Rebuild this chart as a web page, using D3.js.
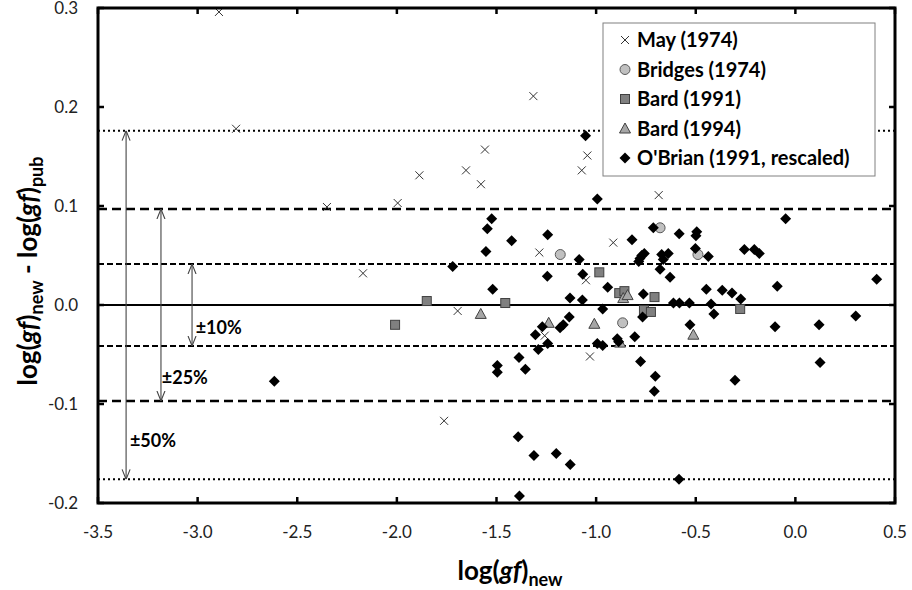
<!DOCTYPE html>
<html>
<head>
<script src="https://d3js.org/d3.v7.min.js"></script>
<style>
  body { margin: 0; background: #fff; font-family: Lato, "Open Sans", sans-serif; }
</style>
</head>
<body>
<div id="chart"></div>
<script>
// data
var mayX = [-2.893, -2.807, -2.351, -2.170, -1.996, -1.887, -1.653, -1.578, -1.558, -1.315, -1.044, -1.072, -0.686, -0.914, -1.285, -1.051, -1.695, -1.258, -1.031, -1.763];
var mayY = [0.296, 0.178, 0.099, 0.032, 0.103, 0.131, 0.136, 0.122, 0.157, 0.211, 0.151, 0.136, 0.111, 0.063, 0.053, 0.025, -0.006, -0.031, -0.052, -0.117];

var bridgesX = [-1.180, -0.679, -0.489, -0.867];
var bridgesY = [0.051, 0.078, 0.051, -0.018];

var bard91X = [-2.009, -1.850, -1.456, -0.984, -0.884, -0.858, -0.760, -0.725, -0.707, -0.277];
var bard91Y = [-0.020, 0.004, 0.002, 0.033, 0.012, 0.014, -0.005, -0.007, 0.008, -0.004];

var bard94X = [-1.579, -1.238, -1.009, -0.864, -0.842, -0.880, -0.512];
var bard94Y = [-0.009, -0.018, -0.019, 0.007, 0.010, -0.038, -0.030];

var obrianX = [-2.615, -1.720, -1.524, -1.546, -1.553, -1.519, -1.496, -1.496, -1.424, -1.387,
  -1.391, -1.385, -1.355, -1.312, -1.305, -1.290, -1.270, -1.245, -1.243, -1.243,
  -1.200, -1.181, -1.165, -1.135, -1.131, -1.130, -1.085, -1.069, -1.067, -1.053,
  -0.994, -0.994, -0.967, -0.967, -0.942, -0.894, -0.887, -0.820, -0.806, -0.786,
  -0.780, -0.771, -0.777, -0.767, -0.763, -0.758, -0.713, -0.708, -0.703, -0.679,
  -0.671, -0.663, -0.638, -0.629, -0.612, -0.584, -0.583, -0.582, -0.532, -0.529,
  -0.502, -0.499, -0.495, -0.447, -0.437, -0.423, -0.409, -0.367, -0.318, -0.303,
  -0.274, -0.256, -0.206, -0.181, -0.102, -0.091, -0.049, 0.119, 0.124, 0.303, 0.408];
var obrianY = [-0.077, 0.039, 0.087, 0.077, 0.054, 0.016, -0.061, -0.068, 0.065, -0.053,
  -0.133, -0.193, -0.065, -0.152, -0.030, -0.045, -0.022, 0.029, 0.071, -0.039,
  -0.150, -0.023, -0.020, -0.012, 0.007, -0.161, 0.046, 0.005, 0.031, 0.171,
  0.107, -0.039, -0.041, -0.004, 0.018, -0.034, -0.037, 0.066, -0.032, 0.044,
  0.047, 0.050, -0.057, -0.012, 0.011, 0.052, 0.078, -0.087, -0.072, 0.036,
  0.051, 0.046, 0.052, 0.028, 0.002, -0.176, 0.072, 0.002, 0.002, -0.020,
  0.057, 0.070, 0.074, 0.016, 0.049, 0.001, -0.009, 0.015, 0.012, -0.076,
  0.006, 0.056, 0.056, 0.052, -0.022, 0.019, 0.087, -0.020, -0.058, -0.011, 0.026];

var xTicks = [-3.5, -3.0, -2.5, -2.0, -1.5, -1.0, -0.5, 0.0, 0.5];
var yTicks = [0.3, 0.2, 0.1, 0.0, -0.1, -0.2];
var legendLabels = ["May (1974)", "Bridges (1974)", "Bard (1991)", "Bard (1994)", "O'Brian (1991, rescaled)"];
var bandLabels = ["±10%", "±25%", "±50%"];
var bandFactors = [1.1, 1.25, 1.5];

var width = 912, height = 590;
var mLeft = 98, mRight = 895, mTop = 8, mBottom = 503;

var svg = d3.select("#chart").append("svg")
  .attr("width", width).attr("height", height);

var x = d3.scaleLinear().domain([-3.5, 0.5]).range([mLeft, mRight]);
var y = d3.scaleLinear().domain([-0.2, 0.3]).range([mBottom, mTop]);
var fmt = function (v) { return d3.format(".1f")(v).replace("−", "-"); };

// reference lines
var bandStyles = [
  { w: 2, dash: "6,3" },
  { w: 2.5, dash: "9,5" },
  { w: 2, dash: "2,3" }
];
bandFactors.forEach(function (f, i) {
  var v = Math.log10(f);
  [v, -v].forEach(function (yy) {
    svg.append("line")
      .attr("x1", mLeft).attr("x2", mRight)
      .attr("y1", y(yy)).attr("y2", y(yy))
      .attr("stroke", "#000").attr("stroke-width", bandStyles[i].w)
      .attr("stroke-dasharray", bandStyles[i].dash);
  });
});
svg.append("line")
  .attr("x1", mLeft).attr("x2", mRight)
  .attr("y1", y(0)).attr("y2", y(0))
  .attr("stroke", "#000").attr("stroke-width", 1.8);

// double arrows
var defs = svg.append("defs");
defs.append("marker").attr("id", "arr").attr("viewBox", "0 0 10 10")
  .attr("refX", 10).attr("refY", 5).attr("markerWidth", 10).attr("markerHeight", 10)
  .attr("markerUnits", "userSpaceOnUse").attr("orient", "auto-start-reverse")
  .append("path").attr("d", "M0,1 L10,5 L0,9").attr("fill", "none")
  .attr("stroke", "#444").attr("stroke-width", 1.1);

var arrowX = [-3.028, -3.184, -3.359];
var labelPos = [[-3.01, -0.023], [-3.18, -0.073], [-3.34, -0.137]];
bandFactors.forEach(function (f, i) {
  var v = Math.log10(f);
  svg.append("line")
    .attr("x1", x(arrowX[i])).attr("x2", x(arrowX[i]))
    .attr("y1", y(v)).attr("y2", y(-v))
    .attr("stroke", "#444").attr("stroke-width", 1.1)
    .attr("marker-start", "url(#arr)").attr("marker-end", "url(#arr)");
  svg.append("text")
    .attr("x", x(labelPos[i][0])).attr("y", y(labelPos[i][1]))
    .attr("dy", "0.35em")
    .attr("font-size", 18).attr("font-weight", "bold")
    .text(bandLabels[i]);
});

// markers
function cross(g, cx, cy) {
  var s = 4;
  g.append("path")
    .attr("d", "M" + (cx - s) + "," + (cy - s) + "L" + (cx + s) + "," + (cy + s) +
      "M" + (cx - s) + "," + (cy + s) + "L" + (cx + s) + "," + (cy - s))
    .attr("stroke", "#333").attr("stroke-width", 1).attr("fill", "none");
}
function circle(g, cx, cy) {
  g.append("circle").attr("cx", cx).attr("cy", cy).attr("r", 5)
    .attr("fill", "#c0c0c0").attr("stroke", "#595959").attr("stroke-width", 1);
}
function square(g, cx, cy) {
  g.append("rect").attr("x", cx - 4.5).attr("y", cy - 4.5).attr("width", 9).attr("height", 9)
    .attr("fill", "#808080").attr("stroke", "#404040").attr("stroke-width", 1);
}
function triangle(g, cx, cy) {
  g.append("path")
    .attr("d", "M" + cx + "," + (cy - 5.5) + "L" + (cx + 5.5) + "," + (cy + 4.5) + "L" + (cx - 5.5) + "," + (cy + 4.5) + "Z")
    .attr("fill", "#a6a6a6").attr("stroke", "#404040").attr("stroke-width", 1);
}
function diamond(g, cx, cy) {
  g.append("path")
    .attr("d", "M" + cx + "," + (cy - 5.5) + "L" + (cx + 5.5) + "," + cy + "L" + cx + "," + (cy + 5.5) + "L" + (cx - 5.5) + "," + cy + "Z")
    .attr("fill", "#000");
}

var series = [
  { xs: mayX, ys: mayY, draw: cross },
  { xs: bridgesX, ys: bridgesY, draw: circle },
  { xs: bard91X, ys: bard91Y, draw: square },
  { xs: bard94X, ys: bard94Y, draw: triangle },
  { xs: obrianX, ys: obrianY, draw: diamond }
];
var pts = svg.append("g");
series.forEach(function (s) {
  s.xs.forEach(function (v, i) {
    s.draw(pts, x(v), y(s.ys[i]));
  });
});

// frame and ticks
svg.append("rect").attr("x", mLeft).attr("y", mTop)
  .attr("width", mRight - mLeft).attr("height", mBottom - mTop)
  .attr("fill", "none").attr("stroke", "#000").attr("stroke-width", 3);

var tl = 6;
xTicks.forEach(function (t) {
  svg.append("line").attr("x1", x(t)).attr("x2", x(t)).attr("y1", mBottom).attr("y2", mBottom - tl)
    .attr("stroke", "#000").attr("stroke-width", 2.5);
  svg.append("line").attr("x1", x(t)).attr("x2", x(t)).attr("y1", mTop).attr("y2", mTop + tl)
    .attr("stroke", "#000").attr("stroke-width", 2.5);
  svg.append("text").attr("x", x(t)).attr("y", 538)
    .attr("text-anchor", "middle").attr("font-size", 17).attr("fill", "#222")
    .text(fmt(t));
});
yTicks.forEach(function (t) {
  svg.append("line").attr("x1", mLeft).attr("x2", mLeft + tl).attr("y1", y(t)).attr("y2", y(t))
    .attr("stroke", "#000").attr("stroke-width", 2.5);
  svg.append("line").attr("x1", mRight).attr("x2", mRight - tl).attr("y1", y(t)).attr("y2", y(t))
    .attr("stroke", "#000").attr("stroke-width", 2.5);
  svg.append("text").attr("x", 78).attr("y", y(t)).attr("dy", "0.35em")
    .attr("text-anchor", "end").attr("font-size", 17).attr("fill", "#222")
    .text(fmt(t));
});

// axis titles
var xt = svg.append("text").attr("x", 510).attr("y", 580)
  .attr("text-anchor", "middle").attr("font-size", 26).attr("font-weight", "bold");
xt.append("tspan").text("log(");
xt.append("tspan").attr("font-style", "italic").text("gf");
xt.append("tspan").text(")");
xt.append("tspan").attr("font-size", 18).attr("dy", 6).text("new");

var yt = svg.append("text")
  .attr("transform", "translate(37,271) rotate(-90)")
  .attr("text-anchor", "middle").attr("font-size", 26).attr("font-weight", "bold");
yt.append("tspan").text("log(");
yt.append("tspan").attr("font-style", "italic").text("gf");
yt.append("tspan").text(")");
yt.append("tspan").attr("font-size", 18).attr("dy", 6).text("new");
yt.append("tspan").attr("dy", -6).text(" - log(");
yt.append("tspan").attr("font-style", "italic").text("gf");
yt.append("tspan").text(")");
yt.append("tspan").attr("font-size", 18).attr("dy", 6).text("pub");

// legend
var lg = svg.append("g");
lg.append("rect").attr("x", 603).attr("y", 23).attr("width", 272).attr("height", 153)
  .attr("fill", "#fff").attr("stroke", "#808080").attr("stroke-width", 1);
legendLabels.forEach(function (name, i) {
  var cy = 40 + i * 29.5;
  series[i].draw(lg, 625, cy);
  lg.append("text").attr("x", 637).attr("y", cy).attr("dy", "0.35em")
    .attr("font-size", 20).attr("font-weight", "bold").text(name);
});
</script>
</body>
</html>
